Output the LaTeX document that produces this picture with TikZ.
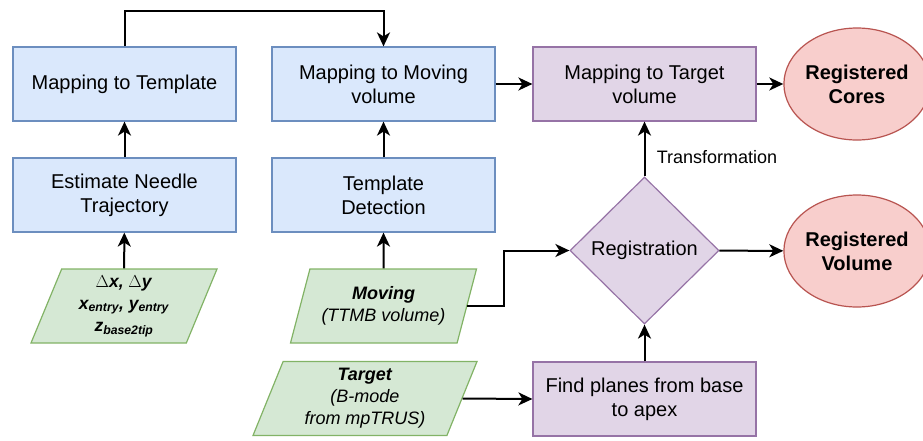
\documentclass[tikz,border=0pt]{standalone}
\usepackage{fontspec}
\setmainfont{Liberation Sans}
\usepackage{xcolor}
\usetikzlibrary{arrows.meta,positioning,shapes.geometric}
\definecolor{bluefill}{HTML}{DAE8FC}
\definecolor{blueline}{HTML}{6C8EBF}
\definecolor{purpfill}{HTML}{E1D5E7}
\definecolor{purpline}{HTML}{9673A6}
\definecolor{greenfill}{HTML}{D5E8D4}
\definecolor{greenline}{HTML}{82B366}
\definecolor{redfill}{HTML}{F8CECC}
\definecolor{redline}{HTML}{B85450}

\begin{document}
\begin{tikzpicture}[
  x=1pt, y=-1pt,
  stepbox/.style={draw=blueline, fill=bluefill, line width=1.2pt, minimum width=223pt, minimum height=74pt, align=center, font=\fontsize{20}{24}\selectfont},
  regbox/.style={stepbox, draw=purpline, fill=purpfill},
  inbox/.style={trapezium, trapezium left angle=63.4, trapezium right angle=116.6, trapezium stretches body, draw=greenline, fill=greenfill, line width=1.2pt, minimum width=186pt, minimum height=74pt, inner sep=0pt, align=center, font=\fontsize{18}{22}\selectfont},
  decide/.style={diamond, draw=purpline, fill=purpfill, line width=1.2pt, minimum width=149pt, minimum height=147pt, inner sep=0pt, font=\fontsize{20}{24}\selectfont},
  outcome/.style={ellipse, draw=redline, fill=redfill, line width=1.2pt, minimum width=128pt, minimum height=112pt, inner sep=0pt, align=center, font=\fontsize{20}{24}\selectfont\bfseries},
  arr/.style={-{Stealth[length=14pt, width=13pt, inset=4pt]}, line width=2pt}
]
\useasboundingbox (0,0) rectangle (923,440);

\node[stepbox] (maptpl) at (124.5,84) {Mapping to Template};
\node[stepbox] (needle) at (124.5,195) {Estimate Needle\\Trajectory};
\node[stepbox] (mapmov) at (383.5,84) {Mapping to Moving\\volume};
\node[stepbox] (tpldet) at (383.5,195) {Template\\Detection};
\node[regbox] (maptgt) at (644.5,84) {Mapping to Target\\volume};
\node[regbox] (planes) at (644.5,399) {Find planes from base\\to apex};
\node[decide] (reg) at (644.5,250.5) {Registration};
\node[outcome] (cores) at (857,84) {Registered\\Cores};
\node[outcome] (volume) at (857,251) {Registered\\Volume};

\node[inbox, font=\fontsize{17.5}{22}\selectfont] (delta) at (124,306) {$\Delta$\textbf{\textit{x, }}$\Delta$\textbf{\textit{y}}\\\textbf{\textit{x\textsubscript{entry}, y\textsubscript{entry}}}\\\textbf{\textit{z\textsubscript{base2tip}}}};
\node[inbox] (moving) at (383.5,306) {\textbf{\textit{Moving}}\\\textit{(TTMB volume)}};
\node[inbox, minimum width=224pt] (target) at (365,398.5) {\textbf{\textit{Target}}\\\textit{(B-mode}\\\textit{from mpTRUS)}};

\draw[arr] (delta) -- (needle);
\draw[arr] (needle) -- (maptpl);
\draw[arr] (maptpl.north) -- ++(0,-35) -| (mapmov.north);
\draw[arr] (moving) -- (tpldet);
\draw[arr] (tpldet) -- (mapmov);
\draw[arr] (mapmov) -- (maptgt);
\draw[arr] (maptgt) -- (cores);
\draw[arr] (reg) -- node[pos=0.35, right, xshift=8pt, font=\fontsize{18}{22}\selectfont] {Transformation} (maptgt);
\draw[arr] (reg) -- (volume);
\draw[arr] (planes) -- (reg);
\draw[arr] (moving.east) -- ++(36.5,0) |- (reg.west);
\draw[arr] (target.east) -- (planes.west);
\end{tikzpicture}
\end{document}
